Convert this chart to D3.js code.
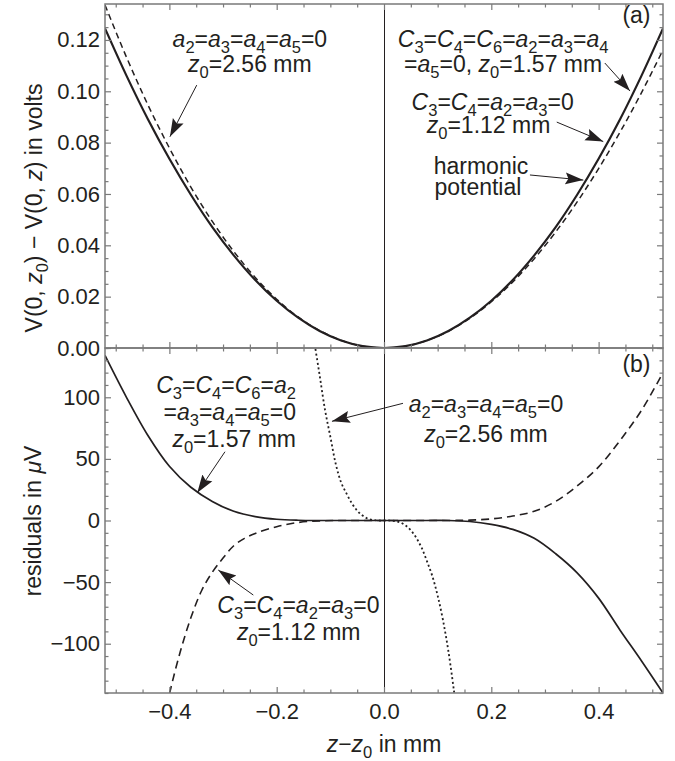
<!DOCTYPE html>
<html>
<head>
<meta charset="utf-8">
<script src="https://cdn.jsdelivr.net/npm/d3@7"></script>
<style>
  body { margin: 0; background: #fff; }
  svg text { font-family: "Liberation Sans", Arial, Helvetica, sans-serif; fill: #231f20; }
</style>
</head>
<body>
<div id="chart"></div>
<script>
// ---- data ----
// panel (a): z - z0 in mm, potential difference in volts
var zA = [-0.52,-0.48,-0.44,-0.40,-0.36,-0.32,-0.28,-0.24,-0.20,-0.16,-0.12,-0.08,-0.04,0,
          0.04,0.08,0.12,0.16,0.20,0.24,0.28,0.32,0.36,0.40,0.44,0.48,0.52];
// harmonic potential (z0=1.57 mm and z0=1.12 mm curves sit on top of it)
var vHarmonic = [0.1245,0.1061,0.0891,0.0737,0.0597,0.0471,0.0361,0.0265,0.0184,0.0118,0.0066,0.0029,0.0007,0,
                 0.0007,0.0029,0.0066,0.0118,0.0184,0.0265,0.0361,0.0471,0.0597,0.0737,0.0891,0.1061,0.1245];
// a2=a3=a4=a5=0, z0=2.56 mm
var vZ256 = [0.1336,0.1133,0.0947,0.0779,0.0627,0.0493,0.0376,0.0275,0.0190,0.0121,0.0068,0.0030,0.0007,0,
             0.0007,0.0029,0.0065,0.0116,0.0180,0.0257,0.0348,0.0452,0.0569,0.0699,0.0841,0.0995,0.1161];

// panel (b): residuals in microvolts
var zSolid = [-0.52,-0.48,-0.44,-0.40,-0.36,-0.32,-0.28,-0.24,-0.20,-0.16,-0.12,-0.08,-0.04,0,
              0.04,0.08,0.12,0.16,0.20,0.24,0.28,0.32,0.36,0.40,0.44,0.48,0.52];
var rZ157 = [134,100,69,44,27,15.5,7.5,3.2,1.0,0.2,0,0,0,0,
             0,0,0,-0.8,-3.2,-7.2,-14.5,-27,-42.5,-63,-89,-114,-140];

var zDash = [-0.42,-0.40,-0.38,-0.36,-0.34,-0.32,-0.30,-0.28,-0.26,-0.24,-0.20,-0.16,-0.12,-0.08,-0.04,0,
             0.04,0.08,0.12,0.16,0.20,0.24,0.28,0.32,0.36,0.40,0.44,0.48,0.52];
var rZ112 = [-182,-141,-107,-79,-57,-42,-30.5,-20.5,-14.5,-10.5,-5,-1.6,-0.3,0,0,0,
             0,0,0,0.3,1.3,3.6,7.5,15.5,28,43.5,65,89.5,120];

var zDot = [-0.135,-0.13,-0.12,-0.11,-0.10,-0.09,-0.08,-0.07,-0.06,-0.05,-0.04,-0.03,-0.02,-0.01,0,
            0.01,0.02,0.03,0.04,0.05,0.06,0.07,0.08,0.09,0.10,0.11,0.12,0.13,0.135];
var rZ256 = [165,146,118,90,68,46,31,22,14,8,4,1.5,0.4,0,0,
             0,-0.4,-1.5,-4,-8,-14,-22,-33,-45,-61,-81,-106,-137,-154];

// ticks
var xMajor = [-0.4,-0.2,0,0.2,0.4];
var yMajorA = [0,0.02,0.04,0.06,0.08,0.10,0.12];
var yMajorB = [-100,-50,0,50,100];

// ---- layout ----
var svgWidth = 675, svgHeight = 761;
var plotLeft = 105, plotRight = 663, plotTop = 4, plotMid = 348, plotBottom = 693;

var svg = d3.select("#chart").append("svg")
    .attr("width", svgWidth)
    .attr("height", svgHeight);

var x = d3.scaleLinear().domain([-0.52, 0.52]).range([plotLeft, plotRight]);
var yA = d3.scaleLinear().domain([0, 0.134]).range([plotMid, plotTop]);
var yB = d3.scaleLinear().domain([-140, 140]).range([plotBottom, plotMid]);

var defs = svg.append("defs");
defs.append("clipPath").attr("id", "clipA").append("rect")
    .attr("x", plotLeft).attr("y", plotTop).attr("width", plotRight - plotLeft).attr("height", plotMid - plotTop);
defs.append("clipPath").attr("id", "clipB").append("rect")
    .attr("x", plotLeft).attr("y", plotMid).attr("width", plotRight - plotLeft).attr("height", plotBottom - plotMid);
defs.append("marker")
    .attr("id", "head")
    .attr("markerUnits", "userSpaceOnUse")
    .attr("viewBox", "0 -7 19 14")
    .attr("markerWidth", 19).attr("markerHeight", 14)
    .attr("refX", 18).attr("refY", 0)
    .attr("orient", "auto")
  .append("path")
    .attr("d", "M0,-6L18,0L0,6L3,0Z")
    .attr("fill", "#231f20");

// vertical axis line at z - z0 = 0 (snapped to a pixel so it stays crisp)
var x0 = Math.round(x(0)) + 0.5;
svg.append("line")
    .attr("x1", x0).attr("x2", x0)
    .attr("y1", plotTop).attr("y2", plotBottom)
    .attr("stroke", "#231f20").attr("stroke-width", 1);

function drawCurve(clip, zs, vs, yScale, width, dash) {
  var line = d3.line()
      .x(d => x(d[0]))
      .y(d => yScale(d[1]))
      .curve(d3.curveCatmullRom.alpha(0.5));
  svg.append("path")
      .attr("clip-path", "url(#" + clip + ")")
      .attr("d", line(d3.zip(zs, vs)))
      .attr("fill", "none")
      .attr("stroke", "#231f20")
      .attr("stroke-width", width)
      .attr("stroke-dasharray", dash);
}

drawCurve("clipA", zA, vZ256, yA, 1.5, "6,4");
drawCurve("clipA", zA, vHarmonic, yA, 2.2, null);

drawCurve("clipB", zSolid, rZ157, yB, 1.7, null);
drawCurve("clipB", zDash, rZ112, yB, 1.6, "8,5");
drawCurve("clipB", zDot, rZ256, yB, 1.8, "2,2.6");

// ---- frames and ticks ----
var frameColor = "#7a7a7a";

function styleAxis(g, fontSize) {
  g.select(".domain").remove();
  g.selectAll(".tick line").attr("stroke", frameColor).attr("stroke-width", 1.2);
  g.selectAll(".tick text").attr("font-size", fontSize).attr("font-family", null).attr("fill", "#231f20");
  g.attr("font-family", null);
}

function panelAxes(yScale, yMajor, yMinorStep, yFmt, y0, y1, xLabels) {
  var ext = yScale.domain();
  var yMinor = d3.range(Math.ceil(ext[0] / yMinorStep) * yMinorStep, ext[1] + 1e-9, yMinorStep)
      .filter(v => !yMajor.some(m => Math.abs(m - v) < 1e-9));
  var xMinor = d3.range(-0.5, 0.5001, 0.05).filter(v => !xMajor.some(m => Math.abs(m - v) < 1e-9));

  // left
  var gl = svg.append("g").attr("transform", `translate(${plotLeft},0)`)
      .call(d3.axisLeft(yScale).tickValues(yMajor).tickSizeInner(-6).tickSizeOuter(0).tickPadding(5).tickFormat(yFmt));
  styleAxis(gl, 22);
  styleAxis(svg.append("g").attr("transform", `translate(${plotLeft},0)`)
      .call(d3.axisLeft(yScale).tickValues(yMinor).tickSizeInner(-3.5).tickSizeOuter(0).tickFormat("")), 22);
  // right
  styleAxis(svg.append("g").attr("transform", `translate(${plotRight},0)`)
      .call(d3.axisRight(yScale).tickValues(yMajor).tickSizeInner(-6).tickSizeOuter(0).tickFormat("")), 22);
  styleAxis(svg.append("g").attr("transform", `translate(${plotRight},0)`)
      .call(d3.axisRight(yScale).tickValues(yMinor).tickSizeInner(-3.5).tickSizeOuter(0).tickFormat("")), 22);
  // top
  styleAxis(svg.append("g").attr("transform", `translate(0,${y0})`)
      .call(d3.axisTop(x).tickValues(xMajor).tickSizeInner(-6).tickSizeOuter(0).tickFormat("")), 22);
  styleAxis(svg.append("g").attr("transform", `translate(0,${y0})`)
      .call(d3.axisTop(x).tickValues(xMinor).tickSizeInner(-3.5).tickSizeOuter(0).tickFormat("")), 22);
  // bottom
  var gb = svg.append("g").attr("transform", `translate(0,${y1})`)
      .call(d3.axisBottom(x).tickValues(xMajor).tickSizeInner(-6).tickSizeOuter(0).tickPadding(10)
        .tickFormat(xLabels ? d3.format(".1f") : ""));
  styleAxis(gb, 22);
  styleAxis(svg.append("g").attr("transform", `translate(0,${y1})`)
      .call(d3.axisBottom(x).tickValues(xMinor).tickSizeInner(-3.5).tickSizeOuter(0).tickFormat("")), 22);

  svg.append("rect")
      .attr("x", plotLeft).attr("y", y0)
      .attr("width", plotRight - plotLeft).attr("height", y1 - y0)
      .attr("fill", "none").attr("stroke", frameColor).attr("stroke-width", 1.5);
}

panelAxes(yA, yMajorA, 0.005, d3.format(".2f"), plotTop, plotMid, false);
panelAxes(yB, yMajorB, 10, d3.format("d"), plotMid, plotBottom, true);

// ---- rich text: $ = next char italic, _ = next char subscript ----
function richText(g, str, px, py, anchor, size) {
  var t = g.append("text")
      .attr("x", px).attr("y", py)
      .attr("text-anchor", anchor)
      .attr("font-size", size);
  var parts = [];
  for (var i = 0; i < str.length; i++) {
    var c = str[i], k = "n";
    if (c === "$") { k = "i"; c = str[++i]; }
    else if (c === "_") { k = "s"; c = str[++i]; }
    if (parts.length && parts[parts.length - 1].k === k) parts[parts.length - 1].t += c;
    else parts.push({ t: c, k: k });
  }
  var shift = 0, sub = Math.round(size * 0.24);
  parts.forEach(function(p) {
    var s = t.append("tspan").text(p.t);
    if (p.k === "i") s.attr("font-style", "italic");
    if (p.k === "s") {
      s.attr("font-size", size * 0.72).attr("dy", sub - shift);
      shift = sub;
    } else if (shift) {
      s.attr("dy", -shift);
      shift = 0;
    }
  });
  return t;
}

// annotations: [text, z, value, anchor]
var notesA = [
  ["$a_2=$a_3=$a_4=$a_5=0", -0.25, 0.1172, "middle"],
  ["$z_0=2.56 mm", -0.25, 0.1075, "middle"],
  ["(a)", 0.4706, 0.1266, "middle"],
  ["$C_3=$C_4=$C_6=$a_2=$a_3=$a_4", 0.222, 0.1172, "middle"],
  ["=$a_5=0, $z_0=1.57 mm", 0.222, 0.1075, "middle"],
  ["$C_3=$C_4=$a_2=$a_3=0", 0.2026, 0.0927, "middle"],
  ["$z_0=1.12 mm", 0.1948, 0.0837, "middle"],
  ["harmonic", 0.1808, 0.0678, "middle"],
  ["potential", 0.1750, 0.0596, "middle"]
];
var arrowsA = [
  [[-0.349, 0.1024], [-0.399, 0.0823]],
  [[0.4116, 0.1110], [0.4585, 0.1001]],
  [[0.322, 0.0880], [0.4087, 0.0804]],
  [[0.272, 0.0674], [0.3715, 0.0654]]
];
var notesB = [
  ["(b)", 0.4706, 120.5, "middle"],
  ["$C_3=$C_4=$C_6=$a_2", -0.164, 103.5, "end"],
  ["=$a_3=$a_4=$a_5=0", -0.164, 81.6, "end"],
  ["$z_0=1.57 mm", -0.164, 59.9, "end"],
  ["$a_2=$a_3=$a_4=$a_5=0", 0.19, 88, "middle"],
  ["$z_0=2.56 mm", 0.19, 64, "middle"],
  ["$C_3=$C_4=$a_2=$a_3=0", -0.1595, -75.3, "middle"],
  ["$z_0=1.12 mm", -0.159, -97, "middle"]
];
var arrowsB = [
  [[-0.2964, 55.8], [-0.348, 22.5]],
  [[0.0354, 95.1], [-0.097, 80.5]],
  [[-0.2436, -60.5], [-0.3089, -40.2]]
];

var notes = svg.append("g");
notesA.forEach(n => richText(notes, n[0], x(n[1]), yA(n[2]), n[3], 23));
notesB.forEach(n => richText(notes, n[0], x(n[1]), yB(n[2]), n[3], 23));

function drawArrows(list, yScale) {
  list.forEach(function(a) {
    notes.append("line")
        .attr("x1", x(a[0][0])).attr("y1", yScale(a[0][1]))
        .attr("x2", x(a[1][0])).attr("y2", yScale(a[1][1]))
        .attr("stroke", "#231f20").attr("stroke-width", 1)
        .attr("marker-end", "url(#head)");
  });
}
drawArrows(arrowsA, yA);
drawArrows(arrowsB, yB);

// ---- axis titles ----
richText(svg.append("g").attr("transform", "translate(42,208) rotate(-90)"),
    "V(0, $z_0) − V(0, $z) in volts", 0, 0, "middle", 23);
richText(svg.append("g").attr("transform", "translate(41,521) rotate(-90)"),
    "residuals in $μV", 0, 0, "middle", 23);
richText(svg, "$z−$z_0 in mm", x(0), 752, "middle", 23);
</script>
</body>
</html>
